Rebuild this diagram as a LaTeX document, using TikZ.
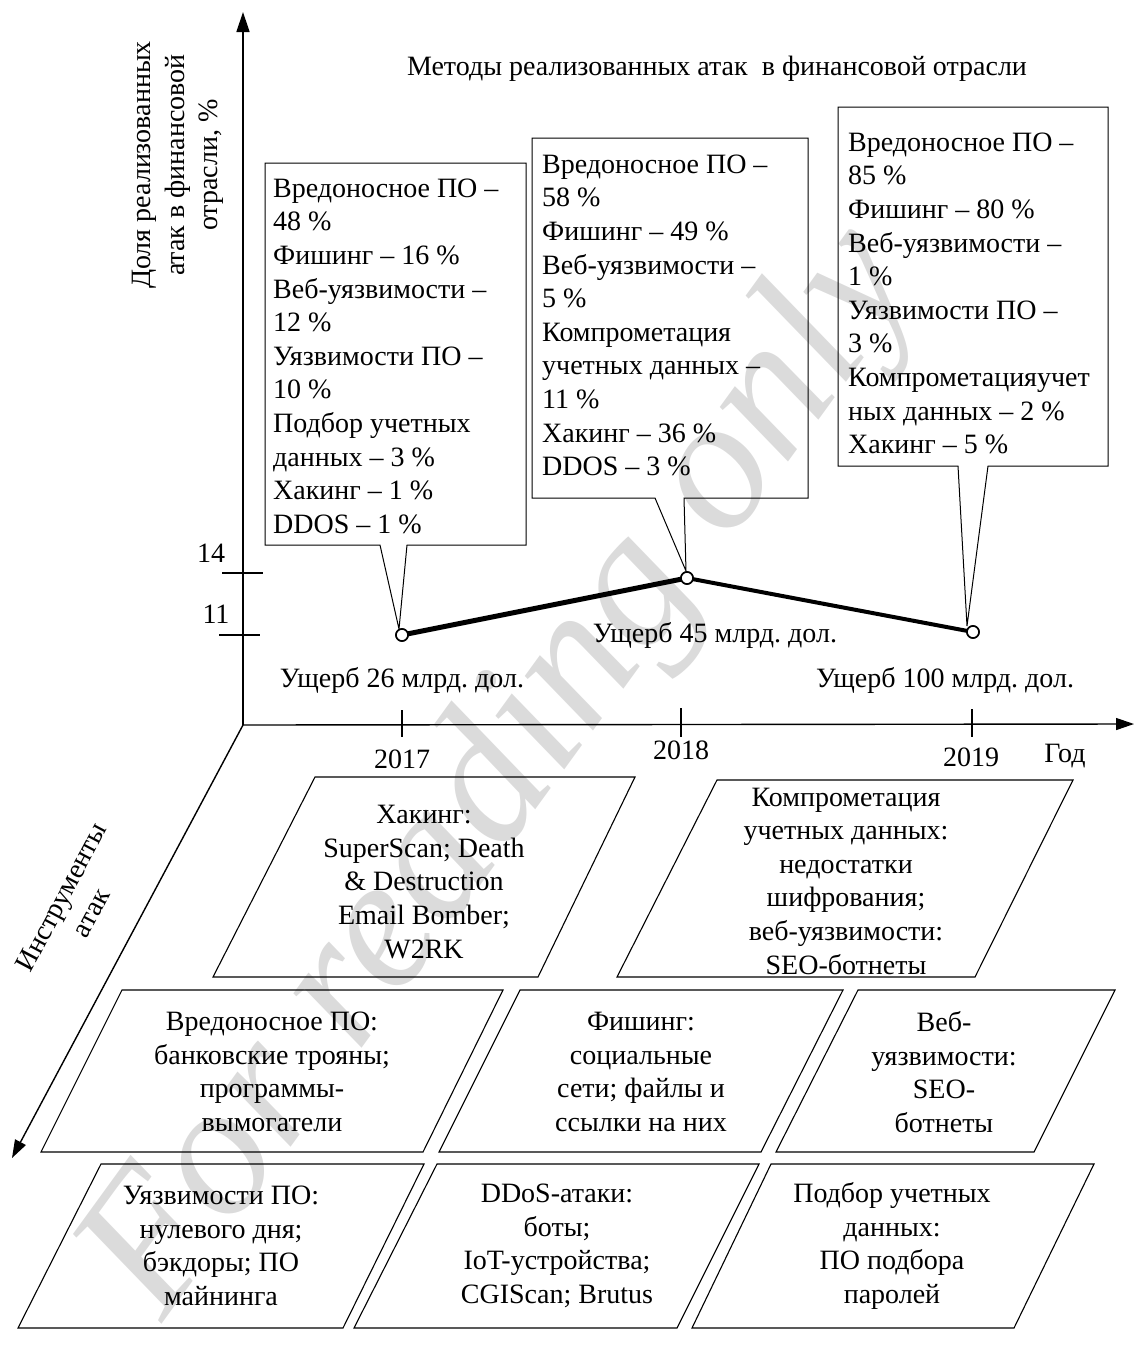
\documentclass[tikz,border=0pt]{standalone}
\usepackage{fontspec}
\setmainfont{Liberation Serif}
\usetikzlibrary{arrows.meta}
\frenchspacing
\begin{document}
\begin{tikzpicture}[x=1pt,y=-1pt,
  txt/.style={font=\fontsize{28}{33.6}\selectfont, inner sep=0pt},
  calltxt/.style={txt, align=left, anchor=north west},
  partxt/.style={txt, align=center},
  callbox/.style={draw, line width=1pt, line join=miter},
  parbox/.style={draw, line width=1.1pt},
  axis/.style={draw, line width=1.4pt},
  tick/.style={draw, line width=1.4pt},
  datapt/.style={circle, draw, fill=white, line width=1.6pt, minimum size=12pt, inner sep=0pt},
  wmark/.style={font=\fontsize{190}{190}\selectfont\itshape, text=black!14, inner sep=0pt}
]
\useasboundingbox (0,0) rectangle (1134,1357);

% watermark
\node[wmark, rotate=54] (wm) at (505,775) {For reading only};

% axes
\coordinate (O) at (243,725);
\coordinate (Ytip) at (243,12);
\coordinate (Xtip) at (1134,724);
\coordinate (Ztip) at (12,1158);
\draw[axis, -{Triangle[length=20pt,width=13pt]}] (O) -- (Ytip);
\draw[axis, -{Triangle[length=18pt,width=12pt]}] (O) -- (Xtip);
\draw[axis, -{Triangle[length=18pt,width=12pt]}] (O) -- (Ztip);

% y ticks
\coordinate (t14a) at (222,573); \coordinate (t14b) at (263,573);
\coordinate (t11a) at (219,635); \coordinate (t11b) at (260,635);
\draw[tick] (t14a) -- (t14b);
\draw[tick] (t11a) -- (t11b);
\node[txt, anchor=base] (l14) at (211,562) {14};
\node[txt, anchor=base] (l11) at (216,623) {11};

% x ticks
\coordinate (x17a) at (402,710); \coordinate (x17b) at (402,737);
\coordinate (x18a) at (681,708); \coordinate (x18b) at (681,737);
\coordinate (x19a) at (972,709); \coordinate (x19b) at (972,737);
\draw[tick] (x17a) -- (x17b);
\draw[tick] (x18a) -- (x18b);
\draw[tick] (x19a) -- (x19b);
\node[txt, anchor=base] (y17) at (402,768) {2017};
\node[txt, anchor=base] (y18) at (681,759) {2018};
\node[txt, anchor=base] (y19) at (971,766) {2019};
\node[txt, anchor=base] (god) at (1065,762) {Год};

% axis labels and title
\node[txt, align=center, rotate=90] (ylab) at (178,165) {Доля реализованных\\атак в финансовой\\отрасли, \%};
\node[txt, align=center, rotate=62] (zlab) at (76,905) {Инструменты\\атак};
\node[txt, anchor=base] (title) at (717,75) {Методы реализованных атак\ \ в финансовой отрасли};

% damage labels
\node[txt, anchor=base] (d17) at (402,687) {Ущерб 26 млрд. дол.};
\node[txt, anchor=base] (d18) at (715,642) {Ущерб 45 млрд. дол.};
\node[txt, anchor=base] (d19) at (945,687) {Ущерб 100 млрд. дол.};

% callouts
\draw[callbox] (265,163) -- (526,163) -- (526,545) -- (407,545) -- (399,629) -- (380,545) -- (265,545) -- cycle;
\draw[callbox] (532,138) -- (808,138) -- (808,498) -- (684,498) -- (686,571) -- (655,498) -- (532,498) -- cycle;
\draw[callbox] (838,107) -- (1108,107) -- (1108,466) -- (988,466) -- (967,626) -- (958,466) -- (838,466) -- cycle;

\node[calltxt] (c17) at (273,178.5) {Вредоносное ПО –\\48 \%\\Фишинг – 16 \%\\Веб-уязвимости –\\12 \%\\Уязвимости ПО –\\10 \%\\Подбор учетных\\данных – 3 \%\\Хакинг – 1 \%\\DDOS – 1 \%};
\node[calltxt] (c18) at (542,154.5) {Вредоносное ПО –\\58 \%\\Фишинг – 49 \%\\Веб-уязвимости –\\5 \%\\Компрометация\\учетных данных –\\11 \%\\Хакинг – 36 \%\\DDOS – 3 \%};
\node[calltxt] (c19) at (848,132.5) {Вредоносное ПО –\\85 \%\\Фишинг – 80 \%\\Веб-уязвимости –\\1 \%\\Уязвимости ПО –\\3 \%\\Компрометацияучет\\ных данных – 2 \%\\Хакинг – 5 \%};

% data line
\node[datapt] (p17) at (402,635) {};
\node[datapt] (p18) at (687,578) {};
\node[datapt] (p19) at (973,632) {};
\draw[line width=5pt] (p17.center) -- (p18.center);
\draw[line width=4pt] (p18.center) -- (p19.center);
\node[datapt] at (p17) {};
\node[datapt] at (p18) {};
\node[datapt] at (p19) {};

% parallelograms
\draw[parbox] (315,777) -- (635,777) -- (538,977) -- (213,977) -- cycle;
\draw[parbox] (717,780) -- (1073,780) -- (975,977) -- (617,977) -- cycle;
\draw[parbox] (122,990) -- (503,990) -- (423,1152) -- (41,1152) -- cycle;
\draw[parbox] (520,990) -- (843,990) -- (761,1152) -- (439,1152) -- cycle;
\draw[parbox] (858,990) -- (1115,990) -- (1034,1152) -- (776,1152) -- cycle;
\draw[parbox] (101,1164) -- (424,1164) -- (343,1328) -- (18,1328) -- cycle;
\draw[parbox] (437,1164) -- (759,1164) -- (677,1328) -- (354,1328) -- cycle;
\draw[parbox] (771,1164) -- (1094,1164) -- (1014,1328) -- (692,1328) -- cycle;

\node[partxt] (hak) at (424,882) {Хакинг:\\SuperScan; Death\\\&\ Destruction\\Email Bomber;\\W2RK};
\node[partxt] (komp) at (846,881) {Компрометация\\учетных данных:\\недостатки\\шифрования;\\веб-уязвимости:\\SEO-ботнеты};
\node[partxt] (vred) at (272,1072) {Вредоносное ПО:\\банковские трояны;\\программы-\\вымогатели};
\node[partxt] (fish) at (641,1072) {Фишинг:\\социальные\\сети; файлы и\\ссылки на них};
\node[partxt] (veb) at (944,1072) {Веб-\\уязвимости:\\SEO-\\ботнеты};
\node[partxt] (uyaz) at (221,1246) {Уязвимости ПО:\\нулевого дня;\\бэкдоры; ПО\\майнинга};
\node[partxt] (ddos) at (557,1246) {DDoS-атаки:\\боты;\\IoT-устройства;\\CGIScan; Brutus};
\node[partxt] (podb) at (892,1246) {Подбор учетных\\данных:\\ПО подбора\\паролей};
\end{tikzpicture}
\end{document}
